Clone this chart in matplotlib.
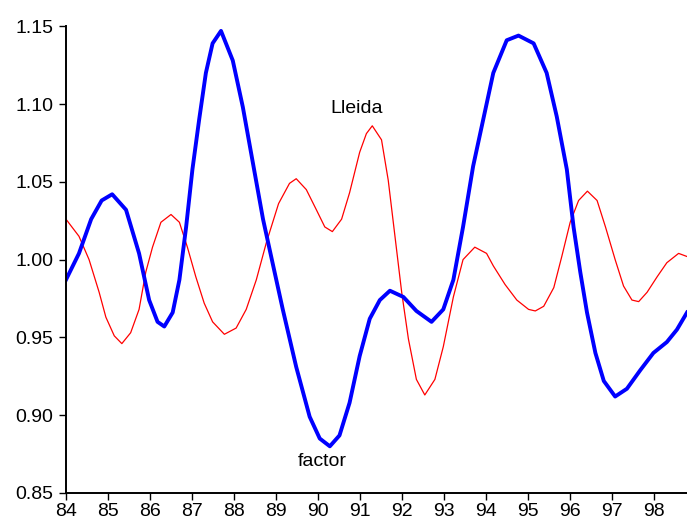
import matplotlib
matplotlib.use("Agg")
import matplotlib.pyplot as plt

plt.rcParams['font.family'] = ['Liberation Sans', 'DejaVu Sans']

# factor (blue, thick)
factor_x = [84.00, 84.31, 84.60, 84.85, 85.10, 85.43, 85.74, 85.98, 86.18, 86.34,
            86.54, 86.70, 86.86, 87.01, 87.17, 87.33, 87.49, 87.69, 87.97, 88.21,
            88.45, 88.69, 88.90, 89.16, 89.48, 89.80, 90.04, 90.28, 90.51, 90.75,
            90.99, 91.23, 91.47, 91.71, 92.03, 92.34, 92.70, 92.98, 93.22, 93.45,
            93.69, 93.93, 94.17, 94.49, 94.77, 95.13, 95.44, 95.68, 95.92, 96.08,
            96.24, 96.40, 96.60, 96.80, 97.07, 97.35, 97.67, 97.98, 98.30, 98.54,
            98.78]
factor_y = [0.987, 1.004, 1.026, 1.038, 1.042, 1.032, 1.004, 0.974, 0.960, 0.957,
            0.966, 0.987, 1.021, 1.058, 1.090, 1.120, 1.139, 1.147, 1.128, 1.098,
            1.062, 1.026, 1.000, 0.968, 0.931, 0.899, 0.885, 0.880, 0.887, 0.908,
            0.938, 0.962, 0.974, 0.980, 0.976, 0.967, 0.960, 0.968, 0.987, 1.021,
            1.060, 1.090, 1.120, 1.141, 1.144, 1.139, 1.120, 1.092, 1.058, 1.021,
            0.992, 0.966, 0.940, 0.922, 0.912, 0.917, 0.929, 0.940, 0.947, 0.955,
            0.966]

# Lleida (red, thin)
lleida_x = [84.00, 84.31, 84.55, 84.79, 84.95, 85.15, 85.33, 85.54, 85.74, 85.90,
            86.06, 86.26, 86.50, 86.70, 86.89, 87.09, 87.29, 87.49, 87.77, 88.05,
            88.29, 88.53, 88.77, 89.06, 89.32, 89.48, 89.72, 89.96, 90.16, 90.34,
            90.56, 90.75, 90.99, 91.15, 91.29, 91.51, 91.67, 91.83, 91.99, 92.15,
            92.34, 92.54, 92.78, 92.98, 93.22, 93.45, 93.73, 94.01, 94.17, 94.45,
            94.73, 95.01, 95.17, 95.37, 95.61, 95.80, 96.00, 96.20, 96.41, 96.64,
            96.84, 97.07, 97.27, 97.47, 97.63, 97.83, 98.07, 98.30, 98.58, 98.78]
lleida_y = [1.026, 1.015, 1.000, 0.979, 0.963, 0.951, 0.946, 0.953, 0.968, 0.992,
            1.008, 1.024, 1.029, 1.024, 1.008, 0.989, 0.972, 0.960, 0.952, 0.956,
            0.968, 0.987, 1.011, 1.036, 1.049, 1.052, 1.045, 1.032, 1.021, 1.018,
            1.026, 1.043, 1.069, 1.081, 1.086, 1.077, 1.051, 1.015, 0.979, 0.949,
            0.923, 0.913, 0.923, 0.944, 0.976, 1.000, 1.008, 1.004, 0.996, 0.984,
            0.974, 0.968, 0.967, 0.970, 0.982, 1.002, 1.024, 1.038, 1.044, 1.038,
            1.021, 1.000, 0.983, 0.974, 0.973, 0.979, 0.989, 0.998, 1.004, 1.002]

x_ticks = list(range(84, 99))
y_ticks = [0.85, 0.90, 0.95, 1.00, 1.05, 1.10, 1.15]

fig = plt.figure(figsize=(6.87, 5.25), dpi=100)
ax = fig.add_axes([0.096, 0.061, 0.904, 0.889])

ax.plot(lleida_x, lleida_y, color='#ff0000', linewidth=0.9, solid_joinstyle='round')
ax.plot(factor_x, factor_y, color='#0000ff', linewidth=2.8, solid_joinstyle='round')

ax.text(90.92, 1.097, 'Lleida', fontsize=14, ha='center', va='center')
ax.text(90.11, 0.8705, 'factor', fontsize=14, ha='center', va='center')

ax.set_xlim(84, 98.78)
ax.set_ylim(0.85, 1.15)
ax.set_xticks(x_ticks)
ax.set_xticklabels([str(t) for t in x_ticks])
ax.set_yticks(y_ticks)
ax.set_yticklabels(['%.2f' % t for t in y_ticks])

ax.spines['top'].set_visible(False)
ax.spines['right'].set_visible(False)
for s in ['left', 'bottom']:
    ax.spines[s].set_linewidth(1.4)
ax.tick_params(axis='both', direction='out', length=5, width=1.0,
               labelsize=14, colors='black')
ax.tick_params(axis='x', pad=2)
ax.tick_params(axis='y', pad=4)

fig.savefig('out.png', dpi=100)
